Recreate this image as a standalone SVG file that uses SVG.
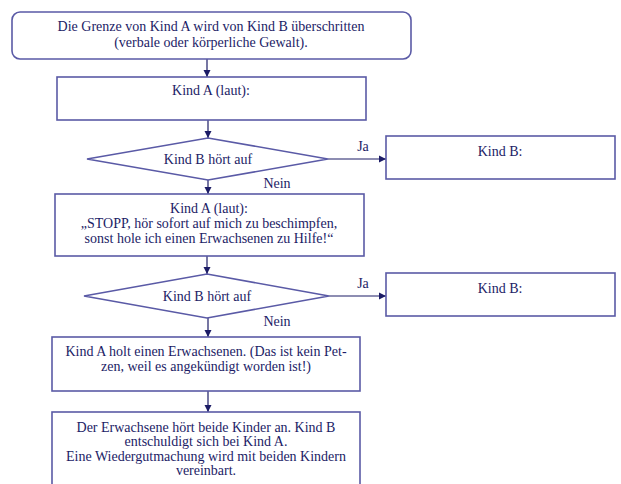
<svg xmlns="http://www.w3.org/2000/svg" width="621" height="484" viewBox="0 0 621 484">
<defs>
<style>
.box{fill:#ffffff;stroke:#5a5aa6;stroke-width:1.6}
.t{font-family:'Liberation Serif','DejaVu Serif',serif;font-size:14px;fill:#1c1c66;text-anchor:middle}
.c{stroke:#1c1c66;stroke-width:1.2;fill:none}
</style>
<marker id="ah" markerWidth="8" markerHeight="8" refX="7" refY="4" orient="auto" markerUnits="userSpaceOnUse">
<path d="M0,0.5 L7,4 L0,7.5 Z" fill="#1c1c66"/>
</marker>
</defs>
<rect width="621" height="484" fill="#ffffff"/>
<g id="connectors">
<line class="c" x1="207" y1="59" x2="207" y2="77" marker-end="url(#ah)"/>
<line class="c" x1="208" y1="120" x2="208" y2="138" marker-end="url(#ah)"/>
<line class="c" x1="328" y1="159" x2="386" y2="159" marker-end="url(#ah)"/>
<line class="c" x1="208" y1="180" x2="208" y2="194" marker-end="url(#ah)"/>
<line class="c" x1="207" y1="256" x2="207" y2="274" marker-end="url(#ah)"/>
<line class="c" x1="329" y1="296" x2="386" y2="296" marker-end="url(#ah)"/>
<line class="c" x1="208" y1="318" x2="208" y2="337" marker-end="url(#ah)"/>
<line class="c" x1="208" y1="391" x2="208" y2="412" marker-end="url(#ah)"/>
<text class="t" x="363" y="151">Ja</text>
<text class="t" x="277" y="188">Nein</text>
<text class="t" x="363" y="288">Ja</text>
<text class="t" x="277" y="326">Nein</text>
</g>
<g id="start">
<rect class="box" x="12" y="12" width="399" height="47" rx="8"/>
<text class="t" x="211" y="31">Die Grenze von Kind A wird von Kind B überschritten</text>
<text class="t" x="211" y="47">(verbale oder körperliche Gewalt).</text>
</g>
<g id="kindA1">
<rect class="box" x="57" y="77" width="309" height="43"/>
<text class="t" x="211" y="95">Kind A (laut):</text>
</g>
<g id="decision1">
<polygon class="box" points="87,159 208,138 328,159 208,180"/>
<text class="t" x="208" y="164">Kind B hört auf</text>
</g>
<g id="kindB1">
<rect class="box" x="386" y="136" width="229" height="43"/>
<text class="t" x="500" y="156">Kind B:</text>
</g>
<g id="kindA2">
<rect class="box" x="55" y="194" width="309" height="62"/>
<text class="t" x="209" y="213">Kind A (laut):</text>
<text class="t" x="209" y="228">„STOPP, hör sofort auf mich zu beschimpfen,</text>
<text class="t" x="209" y="243">sonst hole ich einen Erwachsenen zu Hilfe!“</text>
</g>
<g id="decision2">
<polygon class="box" points="84,296 207,274 329,296 207,318"/>
<text class="t" x="207" y="301">Kind B hört auf</text>
</g>
<g id="kindB2">
<rect class="box" x="386" y="273" width="229" height="43"/>
<text class="t" x="500" y="293">Kind B:</text>
</g>
<g id="adult">
<rect class="box" x="52" y="337" width="308" height="54"/>
<text class="t" x="206" y="356">Kind A holt einen Erwachsenen. (Das ist kein Pet-</text>
<text class="t" x="206" y="371">zen, weil es angekündigt worden ist!)</text>
</g>
<g id="resolve">
<rect class="box" x="52" y="412" width="308" height="80"/>
<text class="t" x="206" y="432">Der Erwachsene hört beide Kinder an. Kind B</text>
<text class="t" x="206" y="446">entschuldigt sich bei Kind A.</text>
<text class="t" x="206" y="461">Eine Wiedergutmachung wird mit beiden Kindern</text>
<text class="t" x="206" y="475">vereinbart.</text>
</g>
</svg>
